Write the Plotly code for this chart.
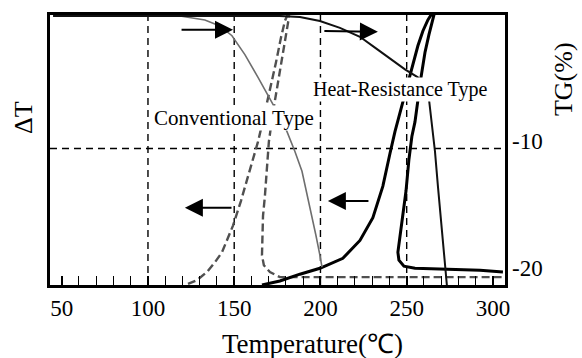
import plotly.graph_objects as go

# ---------------- data ----------------
X_TICKS = [50, 100, 150, 200, 250, 300]
X_TICK_TEXT = ["50", "100", "150", "200", "250", "300"]
X_MINOR_TICKS = list(range(50, 310, 10))
X_GRID = [100, 150, 200, 250]
TG_TICKS = [-10, -20]
TG_TICK_TEXT = ["-10", "-20"]
TG_GRID = [-10]

# Conventional type, TG (%)
conv_tg_temp = [45, 118.6, 133.0, 141.7, 148.7, 156.2, 163.8, 170.7, 176.5, 180.6,
                185.2, 189.3, 193.9, 197.4, 199.7, 200.9]
conv_tg = [0.39, 0.39, 0.08, -0.39, -1.16, -2.64, -4.42, -6.12, -7.52, -8.68,
           -10.23, -11.78, -14.50, -16.82, -18.37, -19.30]

# Conventional type, DTA (arbitrary dT units)
conv_dta_temp = [123.2, 128.4, 134.2, 138.8, 142.9, 149.3, 153.9, 157.4, 160.9, 163.8,
                 167.2, 170.7, 174.2, 177.1, 179.4, 180.6,
                 181.7, 181.2, 178.3, 175.4, 172.5, 170.1, 169.0, 167.8, 166.7, 166.1,
                 166.1, 167.2, 170.7, 176.5, 199.7, 306]
conv_dta = [0.4, 1.8, 4.8, 8.4, 12.1, 22.0, 31.1, 39.2, 46.5, 53.1,
            62.3, 72.2, 82.4, 91.6, 97.8, 99.6,
            99.6, 97.1, 86.1, 75.1, 64.1, 53.1, 42.1, 33.0, 25.6, 16.5,
            11.0, 7.3, 4.8, 2.9, 2.9, 2.9]

# Heat-resistance type, TG (%)
heat_tg_temp = [45, 176.5, 188.1, 199.7, 211.3, 222.9, 231.6, 240.3, 249.0, 256.5,
                260.6, 262.9, 264.6, 266.4, 268.1, 269.9, 271.6, 272.8, 273.3]
heat_tg = [0.39, 0.39, 0.31, 0.0, -0.54, -1.24, -2.09, -2.95, -3.80, -4.42,
           -4.96, -6.12, -7.91, -10.23, -12.95, -15.66, -17.98, -19.53, -20.70]

# Heat-resistance type, DTA (arbitrary dT units)
heat_dta_temp = [166.1, 176.5, 188.1, 199.7, 213.0, 222.9, 230.4, 236.2, 240.3, 243.2,
                 247.8, 250.7, 253.6, 256.5, 259.4, 262.3, 264.1,
                 265.8, 262.9, 260.6, 258.3, 256.5, 254.8, 253.0, 251.3, 249.6, 247.8,
                 246.1, 244.9, 245.5, 248.4, 254.8, 275.1, 292.5, 305.8]
heat_dta = [0.0, 1.5, 4.0, 6.2, 9.9, 16.5, 24.9, 36.6, 48.7, 56.8,
            67.8, 75.1, 82.4, 88.6, 94.1, 98.2, 100,
            100, 92.7, 86.1, 76.9, 67.8, 60.4, 55.0, 46.5, 34.8, 25.6,
            16.5, 12.1, 9.2, 7.0, 6.2, 5.9, 5.5, 4.8]

# ---------------- figure ----------------
SERIF = "Liberation Serif"
fig = go.Figure()

fig.add_trace(go.Scatter(x=conv_dta_temp, y=conv_dta, mode="lines", yaxis="y",
                         line=dict(color="#505050", width=2.4, dash="8px,4px"),
                         showlegend=False, hoverinfo="skip"))
fig.add_trace(go.Scatter(x=conv_tg_temp, y=conv_tg, mode="lines", yaxis="y2",
                         line=dict(color="#6e6e6e", width=1.6),
                         showlegend=False, hoverinfo="skip"))
fig.add_trace(go.Scatter(x=heat_tg_temp, y=heat_tg, mode="lines", yaxis="y2",
                         line=dict(color="#111111", width=2),
                         showlegend=False, hoverinfo="skip"))
fig.add_trace(go.Scatter(x=heat_dta_temp, y=heat_dta, mode="lines", yaxis="y",
                         line=dict(color="#000000", width=3),
                         showlegend=False, hoverinfo="skip"))

shapes = []
for gx in X_GRID:
    shapes.append(dict(type="line", xref="x", yref="paper", x0=gx, x1=gx, y0=0, y1=1,
                       line=dict(color="black", width=1.4, dash="7px,5px"), layer="below"))
for gy in TG_GRID:
    shapes.append(dict(type="line", xref="paper", yref="y2", x0=0, x1=1, y0=gy, y1=gy,
                       line=dict(color="black", width=1.4, dash="7px,5px"), layer="below"))

annotations = []
# arrows (tip at x,y ; tail at ax,ay)
arrows = [(149.3, 94.5, 118.6, 94.5), (233.3, 93.8, 201.4, 94.1),
          (121.4, 28.6, 149.3, 28.6), (204.3, 31.1, 228.7, 31.1)]
for (tx, ty, sx, sy) in arrows:
    annotations.append(dict(x=tx, y=ty, xref="x", yref="y", ax=sx, ay=sy,
                            axref="x", ayref="y", text="", showarrow=True,
                            arrowhead=2, arrowsize=1.8, arrowwidth=2,
                            arrowcolor="black", standoff=0, startstandoff=0))
annotations += [
    dict(x=149.9, y=61.9, xref="x", yref="y", text="Conventional Type", showarrow=False,
         xanchor="center", yanchor="middle",
         font=dict(family=SERIF, size=21, color="black"), bgcolor="white", borderpad=0),
    dict(x=246.1, y=72.5, xref="x", yref="y", text="Heat-Resistance Type", showarrow=False,
         xanchor="center", yanchor="middle",
         font=dict(family=SERIF, size=20, color="black"), bgcolor="white", borderpad=0),
    dict(x=-0.057, y=0.619, xref="paper", yref="paper", text="ΔT", showarrow=False,
         xanchor="center", yanchor="middle",
         textangle=-90, font=dict(family=SERIF, size=26, color="black")),
    dict(x=1.127, y=0.762, xref="paper", yref="paper", text="TG(%)", showarrow=False,
         xanchor="center", yanchor="middle",
         textangle=-90, font=dict(family=SERIF, size=26, color="black")),
    dict(x=0.576, y=-0.22, xref="paper", yref="paper", text="Temperature(℃)", showarrow=False,
         xanchor="center", yanchor="middle",
         font=dict(family=SERIF, size=27, color="black")),
]

fig.update_layout(
    width=582, height=358,
    margin=dict(l=50, r=77, t=12, b=73),
    paper_bgcolor="white", plot_bgcolor="white",
    font=dict(family=SERIF, color="black"),
    showlegend=False,
    shapes=shapes, annotations=annotations,
    xaxis=dict(range=[43.2, 307], tickmode="array", tickvals=X_TICKS, ticktext=X_TICK_TEXT,
               ticks="inside", ticklen=9, tickwidth=1.6, tickcolor="black",
               minor=dict(tickmode="array", tickvals=X_MINOR_TICKS, ticks="inside",
                          ticklen=9, tickwidth=1.4, tickcolor="black", showgrid=False),
               showline=True, mirror=True, linewidth=3, linecolor="black",
               showgrid=False, zeroline=False,
               tickfont=dict(family=SERIF, size=23, color="black")),
    yaxis=dict(range=[0, 100], showticklabels=False, ticks="", showgrid=False,
               zeroline=False, showline=True, mirror=True, linewidth=3, linecolor="black"),
    yaxis2=dict(range=[-20.70, 0.465], overlaying="y", side="right",
                tickmode="array", tickvals=TG_TICKS, ticktext=TG_TICK_TEXT,
                ticks="", showgrid=False, zeroline=False, showline=False,
                ticklabelshift=-8, ticklabelstandoff=6,
                tickfont=dict(family=SERIF, size=23, color="black")),
)

fig.write_html("out.html", config={"displayModeBar": False},
               post_script="document.body.style.margin='0';")
